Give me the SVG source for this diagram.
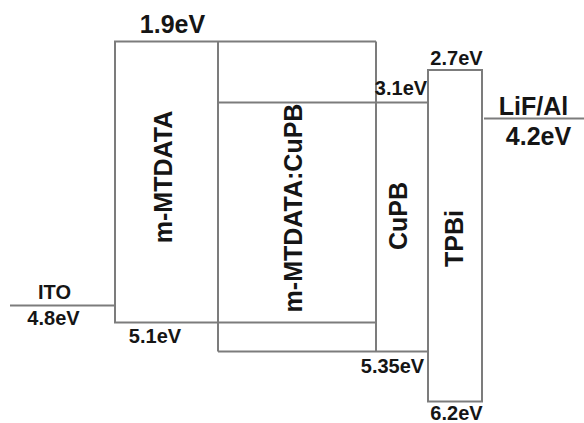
<svg xmlns="http://www.w3.org/2000/svg" width="584" height="423" viewBox="0 0 584 423">
<style>
.ln{fill:none;stroke:#7c7c7c;stroke-width:2}
.t{font-family:"Liberation Sans",Arial,sans-serif;font-weight:bold;fill:#151515;text-anchor:middle}
.big{font-size:25px}
.sm{font-size:20px}
</style>
<rect width="584" height="423" fill="#ffffff"/>
<g id="ito">
<path class="ln" d="M10 305.5H115"/>
<text class="t sm" x="54.5" y="299" font-size="19">ITO</text>
<text class="t sm" x="53.5" y="325">4.8eV</text>
</g>
<g id="m-mtdata">
<path class="ln" d="M115 305.5V41.5H218M115 305.5V322.5H218"/>
<text class="t big" transform="translate(172,177) rotate(-90)" font-size="24">m-MTDATA</text>
<text class="t big" x="172.5" y="33">1.9eV</text>
<text class="t sm" x="155" y="343">5.1eV</text>
</g>
<g id="m-mtdata-cupb">
<path class="ln" d="M218 41.5H376M218 41.5V351.5M218 102.5H376M218 322.5H376M218 351.5H376"/>
<text class="t big" transform="translate(302,208) rotate(-90)" font-size="23.5">m-MTDATA:CuPB</text>
</g>
<g id="cupb">
<path class="ln" d="M376 41.5V351.5M376 102.5H428M376 351.5H428"/>
<text class="t big" transform="translate(407,216) rotate(-90)">CuPB</text>
<text class="t sm" x="401" y="95">3.1eV</text>
<text class="t sm" x="392.5" y="373" font-size="19.5">5.35eV</text>
</g>
<g id="tpbi">
<rect class="ln" x="428" y="70" width="54" height="331.5"/>
<text class="t big" transform="translate(463,238.5) rotate(-90)" font-size="26">TPBi</text>
<text class="t sm" x="456.5" y="65">2.7eV</text>
<text class="t sm" x="456.5" y="420">6.2eV</text>
</g>
<g id="lif-al">
<path class="ln" d="M484 118.5H584"/>
<text class="t big" x="533.5" y="115" font-size="26">LiF/Al</text>
<text class="t big" x="538.5" y="145">4.2eV</text>
</g>
<g id="connectors"/>
</svg>
